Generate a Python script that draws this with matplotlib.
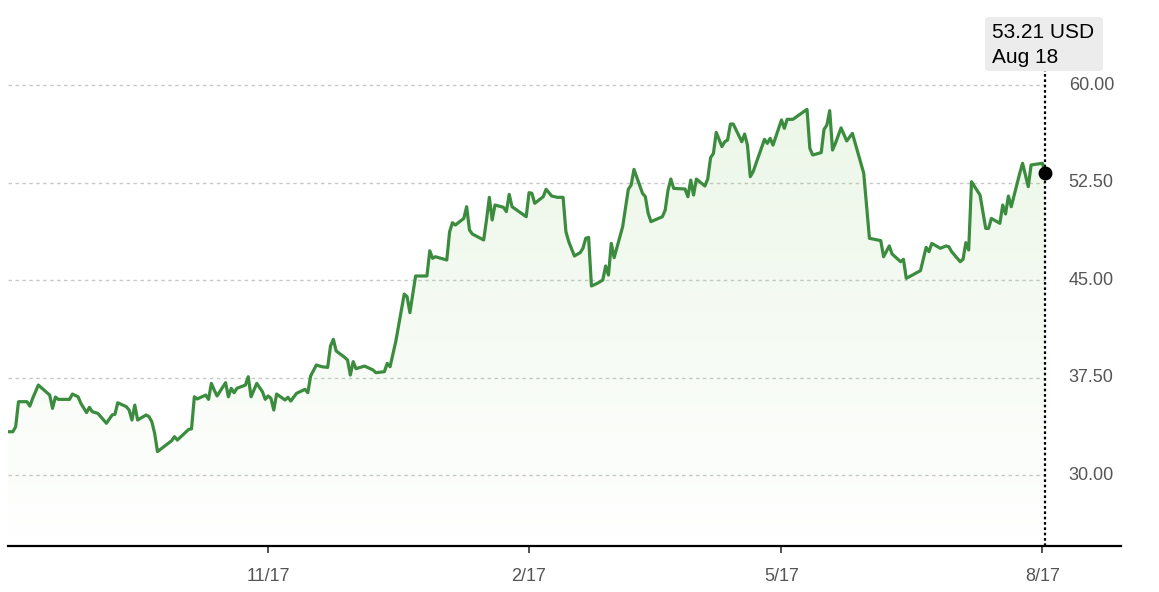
import numpy as np
import pandas as pd
import matplotlib
matplotlib.use("Agg")
import matplotlib.pyplot as plt
import matplotlib.dates as mdates
from matplotlib.patches import FancyBboxPatch

plt.rcParams['font.family'] = ['Liberation Sans', 'DejaVu Sans']

# price series (days counted from 2016-08-18)
start = pd.Timestamp('2016-08-18')
days = [-1, 1, 2, 3, 6, 7, 8, 10, 14, 15, 16, 17, 21, 22, 24, 25, 27, 28, 29, 31,
        34, 36, 37, 38, 41, 42, 43, 44, 45, 48, 49, 50, 51, 52, 55, 57, 58, 59, 63, 64,
        65, 66, 69, 70, 71, 72,
        73, 76, 77, 78, 79, 80, 83, 84, 85, 87, 89, 90, 91, 92, 93, 94, 97, 98, 99, 101,
        104, 105, 106, 108, 110, 112, 113, 114, 115, 118, 119, 120, 121, 122, 125, 128,
        129, 132, 133, 134, 136, 139, 140, 141, 143, 147,
        148, 149, 150, 154, 155, 156, 157, 160, 161, 162, 163, 167, 168, 169, 170, 171,
        174, 175, 176, 177, 182, 183, 184, 185, 188, 189, 191, 193, 195, 196, 197, 199,
        201, 202, 203, 204, 205, 207, 209, 210, 211, 212, 213, 216,
        218, 219, 220, 223, 224, 225, 226, 230, 231, 232, 233, 234, 238, 239, 240, 241,
        242, 245, 246, 247, 248, 249, 251, 252, 253, 254, 255, 258, 259, 260, 261, 262,
        266, 267, 268, 269, 272, 273, 274, 276, 281, 282, 283, 286, 287, 288, 289, 290,
        291, 293, 295, 297,
        301, 303, 307, 308, 310, 311, 314, 315, 316, 321, 323, 324, 325, 328, 330, 331,
        332, 333, 335, 336, 337, 338, 339, 342, 344, 345, 346, 349, 350, 351, 352, 353,
        356, 357, 359, 360, 364, 365]
prices = [33.33, 33.33, 33.72, 35.64, 35.64, 35.3, 35.9, 36.92, 36.15, 35.13,
          36.0, 35.82, 35.82, 36.23, 36.02, 35.51, 34.8, 35.21, 34.87, 34.74,
          33.98, 34.62, 34.67, 35.56, 35.26, 35.0, 34.23, 35.38, 34.23, 34.62,
          34.49, 34.1, 33.21, 31.8, 32.31, 32.64, 32.95, 32.69, 33.51, 33.55,
          36.02, 35.85, 36.15, 35.82, 37.05, 36.54,
          36.08, 37.1, 36.02, 36.67, 36.33, 36.67, 36.92, 37.56, 36.02, 37.05,
          36.41, 35.82, 36.08, 35.9, 35.0, 36.23, 35.77, 35.98, 35.69, 36.28,
          36.59, 36.33, 37.62, 38.46, 38.33, 38.28, 39.92, 40.44, 39.54, 39.05,
          38.85, 37.69, 38.72, 38.18, 38.38, 38.08, 37.87, 37.95, 38.59, 38.33,
          40.26, 43.92, 43.72, 42.49, 45.31, 45.31,
          47.25, 46.67, 46.79, 46.54, 48.72, 49.41, 49.23, 49.74, 50.64, 48.85,
          48.54, 48.08, 49.62, 51.36, 49.62, 50.77, 50.59, 50.26, 51.59, 50.64,
          49.87, 51.72, 51.67, 50.9, 51.41, 51.98, 51.46, 51.36, 51.36, 48.72,
          47.95, 46.85, 47.1, 47.44, 48.21, 48.28, 44.54, 44.74, 45.0, 46.08,
          45.38, 47.82, 46.72, 49.1,
          51.98, 52.31, 53.51, 51.67, 51.41, 50.13, 49.49, 49.87, 50.38, 51.92,
          52.77, 52.05, 52.0, 51.41, 52.69, 51.54, 52.77, 52.23, 52.77, 54.41,
          54.74, 56.36, 55.26, 55.64, 55.77, 57.0, 57.0, 55.64, 56.23, 55.38,
          52.95, 53.33, 55.82, 55.51, 55.9, 55.38, 57.31, 56.67, 57.36, 57.36,
          58.13, 55.13, 54.62, 54.8, 56.59, 56.92, 58.03, 55.0, 55.51, 56.7,
          55.7, 56.28,
          53.21, 48.21, 48.03, 46.79, 47.62, 47.0, 46.41, 46.59, 45.13, 45.72,
          47.51, 47.18, 47.82, 47.44, 47.62, 47.56, 47.18, 46.92, 46.41, 46.59,
          47.87, 47.31, 52.56, 51.54, 48.97, 48.97, 49.74, 49.36, 50.77, 50.08,
          51.46, 50.64, 53.21, 53.98, 52.18, 53.85, 53.98, 53.21]

y_ticks = [30.0, 37.5, 45.0, 52.5, 60.0]
y_labels = ['30.00', '37.50', '45.00', '52.50', '60.00']
x_tick_dates = ['2016-11-17', '2017-02-17', '2017-05-17', '2017-08-17']
x_tick_labels = ['11/17', '2/17', '5/17', '8/17']

dates = start + pd.to_timedelta(days, unit='D')
xs = mdates.date2num(dates.values)
ys = np.array(prices)

green = '#3b8c3e'
ybot, ytop = 24.54, 66.54

fig = plt.figure(figsize=(11.59, 5.92), dpi=100)
ax = fig.add_axes([8 / 1159, 46 / 592, 1113 / 1159, 546 / 592])
x0 = mdates.date2num(start + pd.Timedelta(days=-0.7))
x1 = mdates.date2num(start + pd.Timedelta(days=391.7))

# dashed grid lines, only over the data span
for v, lab in zip(y_ticks, y_labels):
    ax.plot([x0, xs[-1]], [v, v], color='#c8c8c8', lw=1.0, dashes=(2.5, 2.5), zorder=0)
    ax.text(0.953, v, lab, transform=ax.get_yaxis_transform(),
            ha='left', va='center', fontsize=13, color='#555555')

# light gradient under the line
poly = ax.fill_between(xs, ys, ybot, facecolor='none', edgecolor='none')
grad = np.zeros((200, 2, 4))
grad[..., 0] = 0.55
grad[..., 1] = 0.80
grad[..., 2] = 0.45
grad[..., 3] = np.linspace(0.0, 0.17, 200)[:, None]
im = ax.imshow(grad, extent=[xs[0], xs[-1], ybot, 58.5], origin='lower',
               aspect='auto', zorder=1, interpolation='bilinear')
im.set_clip_path(poly.get_paths()[0], transform=ax.transData)
ax.set_xlim(x0, x1)
ax.set_ylim(ybot, ytop)

ax.plot(xs, ys, color=green, lw=2.3, solid_joinstyle='round', zorder=3)

# hover marker on last point
ax.axvline(xs[-1], ymin=0, ymax=(546 - 71) / 546, color='black', lw=1.6,
           linestyle=(0, (1.2, 1.2)), zorder=4)
ax.plot(xs[-1], ys[-1], 'o', color='black', ms=9, zorder=5)

ax.set_xticks(mdates.date2num(pd.to_datetime(x_tick_dates).values))
ax.set_xticklabels(x_tick_labels, fontsize=13, color='#555555')
ax.tick_params(axis='x', length=5, width=1.2, color='#333333', pad=11)
ax.set_yticks([])
for s in ['left', 'right', 'top']:
    ax.spines[s].set_visible(False)
ax.spines['bottom'].set_linewidth(1.6)
ax.spines['bottom'].set_color('black')

# tooltip box
box = FancyBboxPatch((985 / 1159, 521 / 592), 118 / 1159, 54 / 592,
                     boxstyle='round,pad=0,rounding_size=0.004',
                     transform=fig.transFigure, facecolor='#ececec',
                     edgecolor='none', zorder=6)
fig.add_artist(box)
fig.text(992 / 1159, 554 / 592, '%.2f USD' % prices[-1], fontsize=15,
         color='black', va='baseline', ha='left', zorder=7)
fig.text(992 / 1159, 529 / 592, 'Aug 18', fontsize=15,
         color='black', va='baseline', ha='left', zorder=7)

fig.savefig('out.png', dpi=100)
